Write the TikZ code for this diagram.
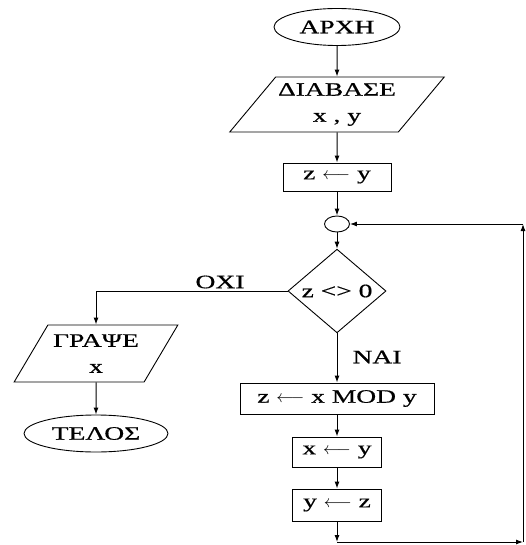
\documentclass[tikz,border=0pt]{standalone}
\usepackage{fontspec}
\setmainfont{Liberation Serif}[FakeStretch=1.45,FakeBold=0.6]
\usetikzlibrary{shapes.geometric,arrows.meta}

\begin{document}
\begin{tikzpicture}[x=1pt,y=-1pt,
    every node/.style={font=\fontsize{19}{26}\selectfont, inner sep=0pt},
    arr/.style={line width=1pt,-{Latex[length=7pt,width=5pt]}},
    term/.style={draw,line width=0.9pt,ellipse,minimum width=126pt,minimum height=37pt},
    io/.style={draw,line width=0.9pt,trapezium,trapezium stretches=true,align=center},
    proc/.style={draw,line width=0.9pt,rectangle,minimum height=30pt}]
    \useasboundingbox (0,0) rectangle (526,545);
    % main column
    \node[term] (start) at (337,27) {ΑΡΧΗ};
    \node[io, trapezium left angle=44, trapezium right angle=136, minimum width=215pt, minimum height=55pt] (read) at (337,104.5) {ΔΙΑΒΑΣΕ\\x , y};
    \node[proc, minimum width=108pt, minimum height=28pt] (zy) at (337,177) {z $\longleftarrow$ y};
    \node[draw, line width=0.9pt, ellipse, minimum width=25pt, minimum height=16pt] (join) at (337,224) {};
    \node[draw, line width=0.9pt, diamond, minimum width=98pt, minimum height=71pt] (test) at (337,291) {z <> 0};
    \node[proc, minimum width=194pt, minimum height=31pt] (mod) at (337,398.5) {z $\longleftarrow$ x MOD y};
    \node[proc, minimum width=89pt] (xy) at (337,452) {x $\longleftarrow$ y};
    \node[proc, minimum width=89pt, minimum height=32pt] (yz) at (337,505) {y $\longleftarrow$ z};
    % exit branch
    \node[io, trapezium left angle=52, trapezium right angle=128, minimum width=164pt, minimum height=57pt] (write) at (96,353.5) {ΓΡΑΨΕ\\x};
    \node[term, minimum width=144pt] (end) at (96,433.5) {ΤΕΛΟΣ};
    \node (no) at (220,282) {ΟΧΙ};
    \node (yes) at (377,357) {ΝΑΙ};
    \coordinate (loopA) at (337,542);
    \coordinate (loopB) at (523,542);
    \coordinate (loopC) at (523,224);
    \draw[arr] (start) -- (read);
    \draw[arr] (read) -- (zy);
    \draw[arr] (zy) -- (join);
    \draw[arr] (join) -- (test);
    \draw[arr] (test.west) -| (write.north);
    \draw[arr] (write) -- (end);
    \draw[arr] (test) -- (mod);
    \draw[arr] (mod) -- (xy);
    \draw[arr] (xy) -- (yz);
    % loop back
    \draw[arr] (yz) -- (loopA);
    \draw[arr] (loopA) -- (loopB);
    \draw[arr] (loopB) -- (loopC);
    \draw[arr] (loopC) -- (join);
\end{tikzpicture}
\end{document}
